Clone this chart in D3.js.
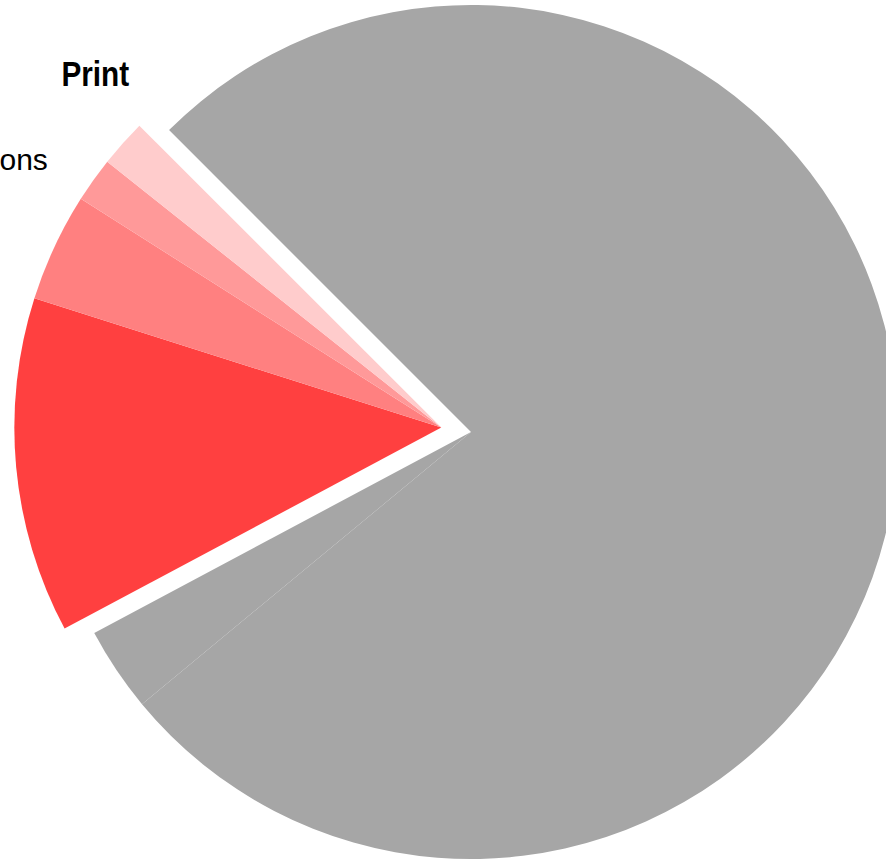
<!DOCTYPE html>
<html><head><meta charset="utf-8">
<script src="https://cdn.jsdelivr.net/npm/d3@7"></script>
<style>html,body{margin:0;padding:0;background:#fff;overflow:hidden}</style>
</head><body>
<svg id="chart" width="886" height="860"></svg>
<script>
// ---- data ----
const categories = ["Digital", "Other", "Advertising", "Classifieds", "Publications", "Print"];
const values = [76.5, 3.2, 12.7, 4.1, 1.7, 1.8];
const groups = ["rest", "rest", "print", "print", "print", "print"];
const sliceColors = ["#a6a6a6", "#a6a6a6", "#ff4040", "#ff8080", "#ff9999", "#ffcccc"];
const shownLabels = ["", "", "", "", "Publications", "Print"];

// ---- layout / style ----
const W = 886, H = 860;
const cx = 471, cy = 432, R = 427;
const explode = { rest: 0, print: 30 };
const labelR = 480;
const labelStyle = {
  "Publications": { anchor: "end", size: 30, weight: "normal", scaleX: 1, nudge: [-2.5, 21] },
  "Print": { anchor: "middle", size: 35, weight: "bold", scaleX: 0.85, nudge: [12, -22] }
};

const svg = d3.select("#chart");
const start = -Math.PI / 4;
const pie = d3.pie().sort(null).value(d => d.v).startAngle(start).endAngle(start + 2 * Math.PI);
const rows = categories.map((c, i) => ({ c, v: values[i], g: groups[i], col: sliceColors[i], lab: shownLabels[i] }));
const arcs = pie(rows);

// group offsets along the group's mid angle
const groupOffset = {};
d3.group(arcs, d => d.data.g).forEach((list, g) => {
  const a0 = d3.min(list, d => d.startAngle), a1 = d3.max(list, d => d.endAngle);
  const m = (a0 + a1) / 2;
  groupOffset[g] = [explode[g] * Math.sin(m), -explode[g] * Math.cos(m)];
});

const arc = d3.arc().innerRadius(0).outerRadius(R);
const labelArc = d3.arc().innerRadius(labelR).outerRadius(labelR);

const root = svg.append("g").attr("transform", `translate(${cx},${cy})`);

root.selectAll("path.slice").data(arcs).join("path")
  .attr("class", "slice")
  .attr("transform", d => `translate(${groupOffset[d.data.g][0]},${groupOffset[d.data.g][1]})`)
  .attr("d", arc)
  .attr("fill", d => d.data.col);

root.selectAll("text.lab").data(arcs.filter(d => d.data.lab)).join("text")
  .attr("class", "lab")
  .each(function (d) {
    const st = labelStyle[d.data.lab];
    const p = labelArc.centroid(d);
    const o = groupOffset[d.data.g];
    const x = p[0] + o[0] + st.nudge[0], y = p[1] + o[1] + st.nudge[1];
    d3.select(this)
      .attr("x", 0).attr("y", 0)
      .attr("transform", `translate(${x},${y}) scale(${st.scaleX},1)`)
      .attr("text-anchor", st.anchor)
      .attr("font-size", st.size)
      .attr("font-weight", st.weight);
  })
  .attr("font-family", "'Liberation Sans Narrow', 'Arial Narrow', 'Liberation Sans', Arial, sans-serif")
  .attr("fill", "#000")
  .text(d => d.data.lab);
</script>
</body></html>
